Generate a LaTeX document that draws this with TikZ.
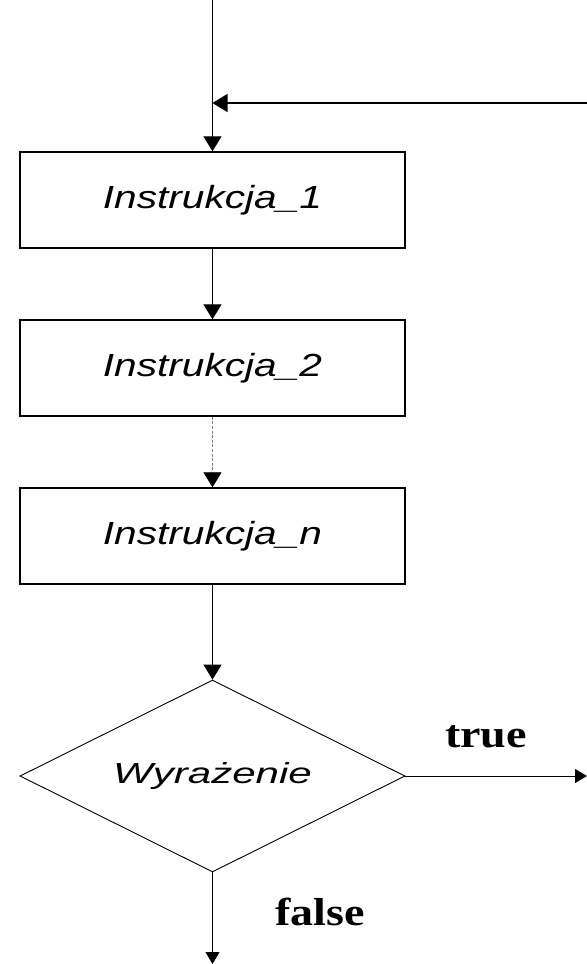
\documentclass[tikz,border=0pt]{standalone}
\usepackage{fontspec}
\setmainfont{Liberation Serif}
\newfontfamily\boxfont{Liberation Sans}
\usetikzlibrary{shapes.geometric,arrows.meta,positioning}

\begin{document}
\begin{tikzpicture}[x=0.5pt,y=-0.5pt,
        blok/.style={draw, line width=0.7pt, minimum width=192.5pt, minimum height=48pt, inner sep=0pt,
                font=\boxfont\itshape\fontsize{16}{18}\selectfont},
        warunek/.style={draw, diamond, aspect=2, line width=0.45pt, minimum width=192.5pt, minimum height=96pt,
                inner sep=0pt, font=\boxfont\itshape\fontsize{14.5}{16}\selectfont},
        strzalka/.style={line width=0.6pt, -{Triangle[width=9pt,length=7.5pt,color=black]}},
        wyjscie/.style={line width=0.5pt, -{Triangle[width=7pt,length=6pt]}},
        etykieta/.style={font=\bfseries\fontsize{19.5}{21}\selectfont, anchor=base}]
            \useasboundingbox (0,0) rectangle (587,964); % whole page

            % the three instructions
            \node[blok] (i1) at (212.5,200) {\scalebox{1.27}[1]{Instrukcja\_1}};
            \node[blok] (i2) at (212.5,368) {\scalebox{1.27}[1]{Instrukcja\_2}};
            \node[blok] (in) at (212.5,536) {\scalebox{1.27}[1]{Instrukcja\_n}};
            % the condition
            \node[warunek] (war) at (212.5,776) {\scalebox{1.45}[1]{Wyra\.zenie}};

            \coordinate (wej) at (i1.north |- 0,0);       % entry from above
            \coordinate (petla) at (587,103);            % loop back from the right
            \coordinate (petla') at (i1.north |- petla);
            \coordinate (prawda) at (587,776);
            \coordinate (falsz) at (war.south |- 0,964);

            \draw[strzalka] (wej) -- (i1.north);
            \draw[strzalka] (petla) -- (petla');
            \draw[strzalka] (i1) -- (i2);
            \draw[strzalka, gray, line width=0.4pt, dash pattern=on 1.5pt off 0.8pt] (i2) -- (in);
            \draw[strzalka] (in) -- (war);
            \draw[wyjscie] (war.east) -- (prawda);
            \draw[wyjscie] (war.south) -- (falsz);

            \node[etykieta] (tl) at (486,747) {\scalebox{1.18}[1]{true}};
            \node[etykieta] (fl) at (320,925) {\scalebox{1.18}[1]{false}};
        \end{tikzpicture}
\end{document}
